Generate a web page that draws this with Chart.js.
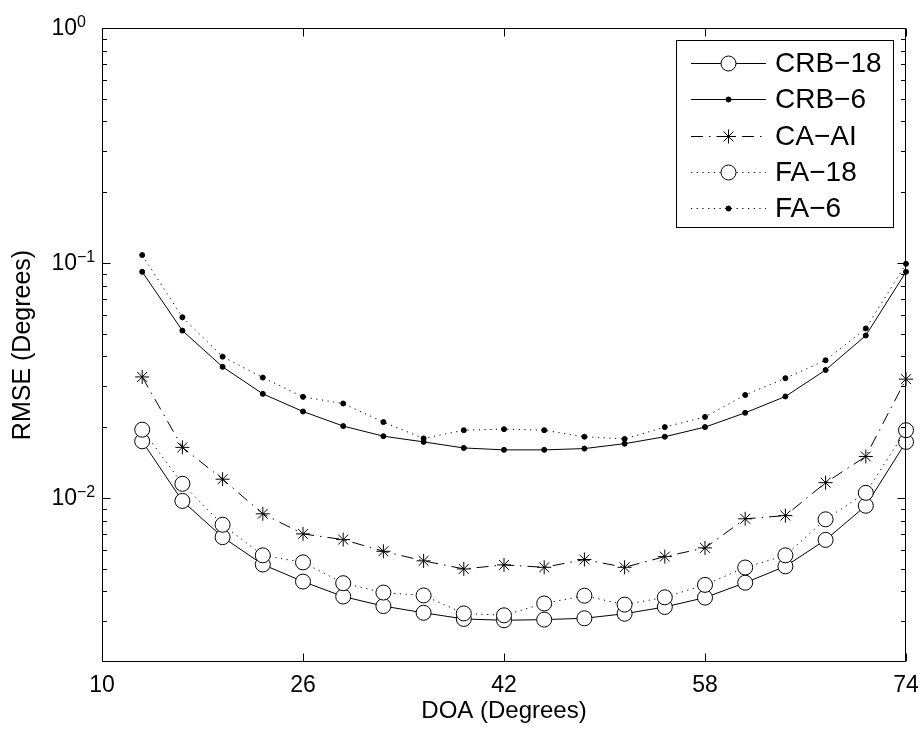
<!DOCTYPE html>
<html>
<head>
<meta charset="utf-8">
<title>RMSE vs DOA</title>
<script src="https://cdn.jsdelivr.net/npm/chart.js@4.4.1/dist/chart.umd.min.js"></script>
<style>
    html, body { margin: 0; padding: 0; background: #fff; }
    canvas { display: block; }
</style>
</head>
<body>
<canvas id="rmseChart" width="923" height="731"></canvas>
<script>
// DOA values (degrees) where each curve was evaluated
const doa = [13.2, 16.4, 19.6, 22.8, 26, 29.2, 32.4, 35.6, 38.8, 42,
             45.2, 48.4, 51.6, 54.8, 58, 61.2, 64.4, 67.6, 70.8, 74];

// RMSE curves (degrees)
const crb18 = [0.0174, 0.0097, 0.0068, 0.0052, 0.0044, 0.0038, 0.00346, 0.00324, 0.00305, 0.00301,
               0.00303, 0.00307, 0.00321, 0.00343, 0.00376, 0.00435, 0.00511, 0.00662, 0.00925, 0.0173];
const crb6  = [0.0916, 0.0515, 0.0361, 0.0277, 0.0233, 0.0202, 0.0183, 0.0173, 0.0163, 0.0160,
               0.0160, 0.0162, 0.0170, 0.0182, 0.0200, 0.0230, 0.0270, 0.0350, 0.0491, 0.0916];
const caAI  = [0.0327, 0.0164, 0.0120, 0.00855, 0.00702, 0.00664, 0.00592, 0.00539, 0.00498, 0.00518,
               0.00506, 0.00546, 0.00506, 0.00562, 0.00612, 0.00814, 0.00840, 0.0116, 0.0150, 0.0320];
const fa18  = [0.0195, 0.01147, 0.00768, 0.00569, 0.00531, 0.00433, 0.00395, 0.00384, 0.00322, 0.00316,
               0.00355, 0.00383, 0.00351, 0.00377, 0.00426, 0.00505, 0.00569, 0.00810, 0.0105, 0.0194];
const fa6   = [0.108, 0.0587, 0.0399, 0.0325, 0.0269, 0.0252, 0.0210, 0.0179, 0.0194, 0.0196,
               0.0194, 0.0182, 0.0178, 0.0200, 0.0221, 0.0274, 0.0323, 0.0385, 0.0526, 0.0991];

// axis ticks
const xTicks = [10, 26, 42, 58, 74];
const yDecades = [0.01, 0.1, 1];
const yExponents = ['\u22122', '\u22121', '0'];

const FONT = '"Liberation Sans", Arial, Helvetica, sans-serif';
const DOTTED = [1.2, 4.5];
const DASHDOT = [12, 6, 1.5, 6];

// build one dataset in MATLAB-like black line style
function series(label, values, style) {
    return Object.assign({
        label: label,
        data: doa.map((x, i) => ({ x: x, y: values[i] })),
        showLine: true,
        clip: false,
        tension: 0,
        borderColor: '#000',
        borderWidth: 1,
        pointBorderColor: '#000',
        pointBorderWidth: 1,
        pointBackgroundColor: '#fff',
        pointHoverRadius: 0
    }, style);
}

// frame, inward ticks and tick labels like a MATLAB axes
const matlabAxes = {
    id: 'matlabAxes',
    afterDatasetsDraw(chart) {
        const { ctx, chartArea: a, scales } = chart;
        const xs = scales.x, ys = scales.y;
        const L = Math.round(a.left) + 0.5, R = Math.round(a.right) - 0.5;
        const T = Math.round(a.top) + 0.5, B = Math.round(a.bottom) - 0.5;

        ctx.save();
        ctx.strokeStyle = '#000';
        ctx.lineWidth = 1;
        ctx.setLineDash([]);
        ctx.beginPath();
        ctx.moveTo(L, T); ctx.lineTo(R, T); ctx.lineTo(R, B); ctx.lineTo(L, B); ctx.closePath();

        // x ticks, bottom and top
        xTicks.forEach(v => {
            const px = Math.round(xs.getPixelForValue(v)) + 0.5;
            ctx.moveTo(px, B); ctx.lineTo(px, B - 8);
            ctx.moveTo(px, T); ctx.lineTo(px, T + 8);
        });
        // y major ticks
        yDecades.forEach(v => {
            const py = Math.round(ys.getPixelForValue(v)) + 0.5;
            ctx.moveTo(L, py); ctx.lineTo(L + 8, py);
            ctx.moveTo(R, py); ctx.lineTo(R - 8, py);
        });
        // y minor ticks
        [0.001, 0.01, 0.1].forEach(d => {
            for (let m = 2; m <= 9; m++) {
                const v = m * d;
                if (v <= ys.min || v >= ys.max) continue;
                const py = Math.round(ys.getPixelForValue(v)) + 0.5;
                ctx.moveTo(L, py); ctx.lineTo(L + 4.5, py);
                ctx.moveTo(R, py); ctx.lineTo(R - 4.5, py);
            }
        });
        ctx.stroke();

        // tick labels
        ctx.fillStyle = '#000';
        ctx.font = '23px ' + FONT;
        ctx.textAlign = 'center';
        ctx.textBaseline = 'middle';
        xTicks.forEach(v => {
            ctx.fillText(String(v), xs.getPixelForValue(v), a.bottom + 24);
        });
        yDecades.forEach((v, i) => {
            const py = ys.getPixelForValue(v);
            ctx.font = '23px ' + FONT;
            ctx.textAlign = 'right';
            ctx.textBaseline = 'middle';
            ctx.fillText('10', 77, py + 1);
            ctx.font = '16px ' + FONT;
            ctx.textAlign = 'left';
            ctx.textBaseline = 'alphabetic';
            ctx.fillText(yExponents[i], 77, py - 1);
        });

        // axis titles
        ctx.font = '24px ' + FONT;
        ctx.textAlign = 'center';
        ctx.textBaseline = 'middle';
        ctx.fillText('DOA (Degrees)', (a.left + a.right) / 2, 711);
        ctx.save();
        ctx.font = '25px ' + FONT;
        ctx.translate(23, (a.top + a.bottom) / 2);
        ctx.rotate(-Math.PI / 2);
        ctx.fillText('RMSE (Degrees)', 0, 0);
        ctx.restore();

        // legend box with line + marker samples
        const box = { left: 676.5, top: 40.5, right: 893.5, bottom: 227.5 };
        ctx.fillStyle = '#fff';
        ctx.fillRect(box.left, box.top, box.right - box.left, box.bottom - box.top);
        ctx.strokeRect(box.left, box.top, box.right - box.left, box.bottom - box.top);
        ctx.font = '28px ' + FONT;
        ctx.textAlign = 'left';
        ctx.textBaseline = 'middle';
        chart.data.datasets.forEach((ds, i) => {
            const yy = Math.round(63 + i * 36.3) + 0.5;
            ctx.strokeStyle = '#000';
            ctx.lineWidth = 1;
            ctx.setLineDash(ds.borderDash || []);
            ctx.beginPath();
            ctx.moveTo(691, yy); ctx.lineTo(766, yy);
            ctx.stroke();
            ctx.setLineDash([]);
            ctx.fillStyle = ds.pointBackgroundColor;
            Chart.helpers.drawPoint(ctx, {
                pointStyle: ds.pointStyle, radius: ds.pointRadius, rotation: 0, borderWidth: 1
            }, 728.5, yy);
            ctx.fillStyle = '#000';
            ctx.fillText(ds.label, 775, yy + 1);
        });
        ctx.restore();
    }
};

const ctx = document.getElementById('rmseChart');
new Chart(ctx, {
    type: 'scatter',
    data: {
        datasets: [
            series('CRB\u221218', crb18, { pointStyle: 'circle', pointRadius: 7.5, order: 5 }),
            series('CRB\u22126', crb6, { pointStyle: 'circle', pointRadius: 2.5, pointBackgroundColor: '#000', order: 4 }),
            series('CA\u2212AI', caAI, { pointStyle: 'star', pointRadius: 7, borderDash: DASHDOT, order: 3 }),
            series('FA\u221218', fa18, { pointStyle: 'circle', pointRadius: 7.5, borderDash: DOTTED, order: 2 }),
            series('FA\u22126', fa6, { pointStyle: 'circle', pointRadius: 2.5, pointBackgroundColor: '#000', borderDash: DOTTED, order: 1 })
        ]
    },
    options: {
        responsive: false,
        devicePixelRatio: 1,
        animation: false,
        layout: { padding: { left: 102, top: 28, right: 17, bottom: 69 } },
        scales: {
            x: { type: 'linear', min: 10, max: 74, display: false },
            y: { type: 'logarithmic', min: 0.002, max: 1, display: false }
        },
        plugins: {
            legend: { display: false },
            tooltip: { enabled: false }
        }
    },
    plugins: [matlabAxes]
});
</script>
</body>
</html>
